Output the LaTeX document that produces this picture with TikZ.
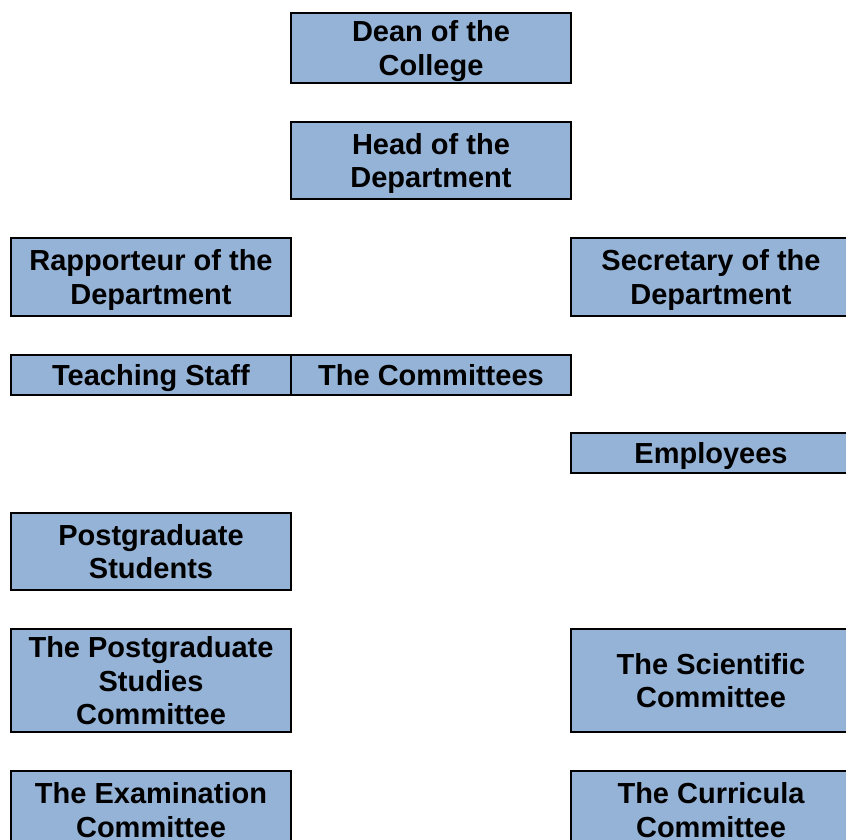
\documentclass[tikz,border=0pt]{standalone}
\usepackage{fontspec}
\setmainfont{Liberation Sans}
\definecolor{boxblue}{HTML}{95B3D7}
\newcommand{\topstrut}{\rule{0pt}{26.2pt}}
\newcommand{\botstrut}{\rule[-6.1pt]{0pt}{6.1pt}}
\begin{document}
\begin{tikzpicture}[x=1pt,y=-1pt,
  orgbox/.style={draw=black, line width=2pt, fill=boxblue, minimum width=280pt,
    inner sep=0pt, align=center, font=\bfseries\fontsize{29}{33.4}\selectfont,
    execute at begin node=\topstrut, execute at end node=\botstrut},
  mlbox/.style={orgbox, text depth=0pt},
]
\useasboundingbox (0,0) rectangle (846,840);
\clip (0,0) rectangle (846,840);
\node[mlbox, minimum height=70pt] (dean) at (431,48) {Dean of the\\College};
\node[mlbox, minimum height=77pt] (head) at (431,160.5) {Head of the\\Department};
\node[mlbox, minimum height=78pt] (rapp) at (151,277) {Rapporteur of the\\Department};
\node[mlbox, minimum height=78pt] (secr) at (711,277) {Secretary of the\\Department};
\node[orgbox, minimum height=40pt] (teach) at (151,375) {Teaching Staff};
\node[orgbox, minimum height=40pt] (comm) at (431,375) {The Committees};
\node[orgbox, minimum height=40pt] (empl) at (711,453) {Employees};
\node[mlbox, minimum height=77pt] (pgst) at (151,551.5) {Postgraduate\\Students};
\node[mlbox, minimum height=103pt] (pgsc) at (151,680.5) {The Postgraduate\\Studies\\Committee};
\node[mlbox, minimum height=103pt] (scic) at (711,680.5) {The Scientific\\Committee};
\node[mlbox, minimum height=78pt] (exam) at (151,810) {The Examination\\Committee};
\node[mlbox, minimum height=78pt] (curr) at (711,810) {The Curricula\\Committee};
\end{tikzpicture}
\end{document}
